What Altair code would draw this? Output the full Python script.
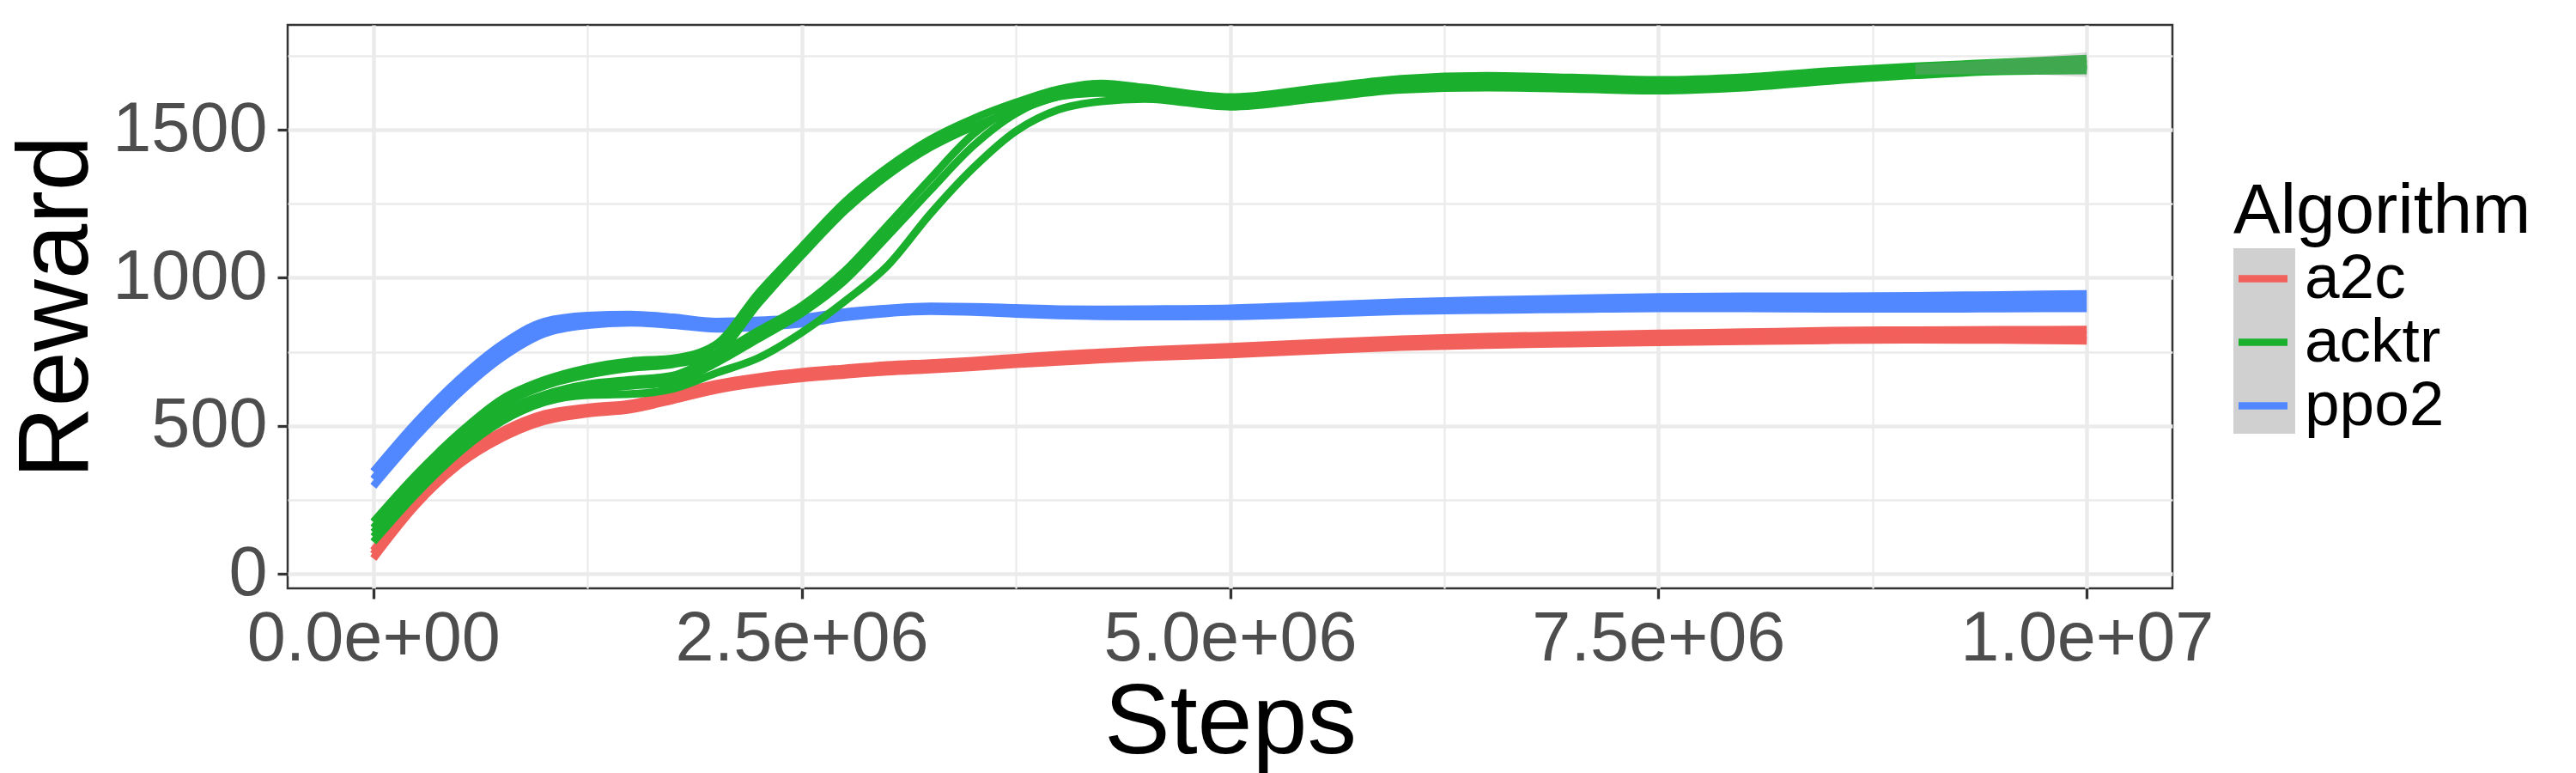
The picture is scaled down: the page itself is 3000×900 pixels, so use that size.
import altair as alt
import pandas as pd

# ---- data ----
step_millions = [0, 0.25, 0.5, 0.75, 1.0, 1.25, 1.5, 1.75, 2.0, 2.25, 2.5, 2.75, 3.0, 3.25,
                 3.5, 3.75, 4.0, 4.25, 4.5, 5.0, 5.5, 6.0, 6.5, 7.0, 7.5, 8.0, 8.5, 9.0, 9.5, 10.0]

a2c_seed1 = [78, 258, 392, 482, 540, 562, 575, 608, 642, 665, 682, 694, 705, 712, 720, 730, 740, 748,
             755, 767, 780, 792, 801, 806, 812, 816, 821, 823, 824, 825]
a2c_seed2 = [66, 245, 380, 469, 527, 551, 565, 597, 631, 654, 670, 682, 693, 700, 708, 718, 727, 735,
             742, 753, 766, 778, 786, 791, 796, 800, 804, 806, 806, 806]
a2c_seed3 = [52, 232, 368, 458, 516, 541, 555, 587, 621, 644, 660, 672, 683, 690, 698, 708, 716, 724,
             731, 741, 754, 766, 773, 778, 782, 786, 789, 791, 790, 787]

acktr_seed1 = [175, 335, 475, 590, 655, 695, 718, 728, 775, 950, 1104, 1255, 1372, 1467, 1537, 1592,
               1637, 1656, 1642, 1610, 1640, 1672, 1682, 1676, 1668, 1677, 1698, 1714, 1727, 1740]
acktr_seed2 = [155, 315, 455, 570, 635, 672, 695, 708, 745, 915, 1075, 1225, 1345, 1440, 1510, 1565,
               1612, 1640, 1632, 1603, 1628, 1660, 1668, 1662, 1655, 1663, 1684, 1700, 1713, 1723]
acktr_seed3 = [140, 290, 430, 545, 605, 640, 655, 670, 738, 822, 905, 1022, 1176, 1334, 1484, 1579,
               1632, 1648, 1628, 1595, 1622, 1656, 1662, 1656, 1648, 1657, 1680, 1696, 1709, 1718]
acktr_seed4 = [125, 275, 410, 525, 590, 622, 635, 648, 712, 795, 880, 990, 1140, 1295, 1445, 1555,
               1612, 1624, 1614, 1586, 1612, 1645, 1652, 1647, 1640, 1650, 1672, 1690, 1703, 1712]
acktr_seed5 = [108, 270, 410, 515, 580, 604, 607, 625, 678, 730, 815, 920, 1040, 1215, 1370, 1495,
               1568, 1596, 1604, 1578, 1605, 1635, 1642, 1638, 1632, 1642, 1665, 1684, 1697, 1700]

ppo2_seed1 = [345, 512, 657, 775, 852, 872, 876, 866, 852, 856, 865, 884, 896, 903, 902, 898, 894,
              893, 894, 897, 907, 918, 925, 930, 935, 937, 937, 939, 942, 945]
ppo2_seed2 = [320, 487, 633, 752, 832, 856, 862, 853, 840, 845, 855, 875, 888, 895, 893, 888, 884,
              882, 882, 884, 893, 903, 908, 912, 916, 917, 916, 917, 919, 921]
ppo2_seed3 = [296, 463, 610, 730, 812, 840, 848, 840, 828, 834, 845, 866, 880, 887, 884, 878, 873,
              870, 869, 870, 878, 887, 891, 894, 897, 897, 895, 895, 896, 897]

# grey confidence ribbon visible only at the end of acktr
ribbon_steps_millions = [9.0, 9.5, 10.0]
ribbon_low = [1686, 1688, 1678]
ribbon_high = [1722, 1738, 1762]

algorithms = ["a2c", "acktr", "ppo2"]
algo_colors = ["#F2605C", "#1BAF2E", "#5288FF"]
key_gray = "#D0D0D0"

series = {
    "a2c": [a2c_seed1, a2c_seed2, a2c_seed3],
    "acktr": [acktr_seed1, acktr_seed2, acktr_seed3, acktr_seed4, acktr_seed5],
    "ppo2": [ppo2_seed1, ppo2_seed2, ppo2_seed3],
}

x_tick_values = [0, 1250000, 2500000, 3750000, 5000000, 6250000, 7500000, 8750000, 10000000]
x_major_values = [0, 2500000, 5000000, 7500000, 10000000]
x_major_labels = ["0.0e+00", "2.5e+06", "5.0e+06", "7.5e+06", "1.0e+07"]
y_tick_values = [0, 250, 500, 750, 1000, 1250, 1500, 1750]

rows = []
for algo, seeds in series.items():
    for i, vals in enumerate(seeds):
        for s, v in zip(step_millions, vals):
            rows.append({"Steps": s * 1e6, "Reward": v, "Algorithm": algo, "seed": f"{algo}_{i}"})
df = pd.DataFrame(rows)

ribbon_df = pd.DataFrame({
    "Steps": [s * 1e6 for s in ribbon_steps_millions],
    "low": ribbon_low,
    "high": ribbon_high,
})

FONT = "Liberation Sans"
major_test_x = "datum.value % 2500000 === 0"
major_test_y = "datum.value % 500 === 0"

x_label_expr = ""
for v, lab in zip(x_major_values, x_major_labels):
    x_label_expr += f"datum.value == {v} ? '{lab}' : "
x_label_expr += "''"

x_scale = alt.Scale(domain=[-500000, 10500000], nice=False, zero=False)
y_scale = alt.Scale(domain=[-49, 1854], nice=False, zero=False)

x_enc = alt.X(
    "Steps:Q",
    scale=x_scale,
    axis=alt.Axis(
        title="Steps", values=x_tick_values, labelExpr=x_label_expr,
        domain=False, labelFlush=False, labelOverlap=False, labelBound=False,
        labelLimit=2000, titleLimit=2000,
        tickSize=12, tickColor="#333333",
        tickWidth=3.3,
        tickOpacity={"condition": {"test": major_test_x, "value": 1}, "value": 0},
        gridColor="#EBEBEB",
        gridWidth={"condition": {"test": major_test_x, "value": 4.5}, "value": 2.3},
        labelFontSize=81, labelColor="#4D4D4D", labelFont=FONT, labelPadding=7,
        titleFontSize=115, titleFont=FONT, titleFontWeight="normal", titleColor="black",
        titlePadding=1,
    ),
)
y_enc = alt.Y(
    "Reward:Q",
    scale=y_scale,
    axis=alt.Axis(
        title="Reward", values=y_tick_values, format="d",
        labelExpr=f"{major_test_y} ? datum.label : ''",
        domain=False, labelOverlap=False, labelFlush=False,
        labelLimit=2000, titleLimit=2000,
        tickSize=12, tickColor="#333333", tickWidth=3.3,
        tickOpacity={"condition": {"test": major_test_y, "value": 1}, "value": 0},
        gridColor="#EBEBEB",
        gridWidth={"condition": {"test": major_test_y, "value": 4.5}, "value": 2.3},
        labelFontSize=81, labelColor="#4D4D4D", labelFont=FONT, labelPadding=12,
        titleFontSize=116, titleFont=FONT, titleFontWeight="normal", titleColor="black",
        titlePadding=10,
    ),
)

stroke_legend = alt.Legend(
    title="Algorithm", orient="none", legendX=2266, legendY=177,
    titleFontSize=82, titleFont=FONT, titleFontWeight="normal", titleColor="black",
    titlePadding=0, titleAnchor="start", titleLimit=2000,
    labelFontSize=73, labelFont=FONT, labelColor="black", labelOffset=12, labelLimit=2000,
    symbolType="stroke", symbolSize=3249, symbolStrokeWidth=8.7, symbolOffset=-2,
    rowPadding=-1, padding=0, offset=0,
)
stroke_enc = alt.Stroke("Algorithm:N", scale=alt.Scale(domain=algorithms, range=algo_colors),
                        legend=stroke_legend)

# grey key background: separate legend on a different domain so it is not merged
key_domain = [a + "_key" for a in algorithms]
gray_legend = alt.Legend(
    title=None, orient="none", legendX=2266, legendY=260,
    symbolType="square", symbolSize=5184, symbolOpacity=1, symbolStrokeWidth=0,
    labelFontSize=1, labelOpacity=0, rowPadding=0, padding=0, offset=0,
)

base = alt.Chart(df)

key_layer = base.transform_calculate(key="datum.Algorithm + '_key'").mark_point(
    filled=True, opacity=0
).encode(
    x=x_enc, y=y_enc,
    color=alt.Color("key:N", scale=alt.Scale(domain=key_domain, range=[key_gray] * 3),
                    legend=gray_legend),
)

layers = []
for algo in ["a2c", "ppo2", "acktr"]:
    layers.append(
        base.transform_filter(alt.datum.Algorithm == algo)
        .mark_line(strokeWidth=9, interpolate="monotone")
        .encode(x=x_enc, y=y_enc, stroke=stroke_enc, detail="seed:N")
    )

ribbon = alt.Chart(ribbon_df).mark_area(color="#999999", opacity=0.3, interpolate="monotone").encode(
    x=alt.X("Steps:Q", scale=x_scale),
    y=alt.Y("low:Q", scale=y_scale),
    y2="high:Q",
)

chart = alt.layer(key_layer, *layers, ribbon).properties(
    width=2195, height=656,
    padding={"left": 0, "top": 15, "right": 10, "bottom": 10},
).configure(font=FONT).configure_view(
    stroke="#333333", strokeWidth=2.5
)

chart.save("out.html", embed_options={"renderer": "svg", "actions": False})
